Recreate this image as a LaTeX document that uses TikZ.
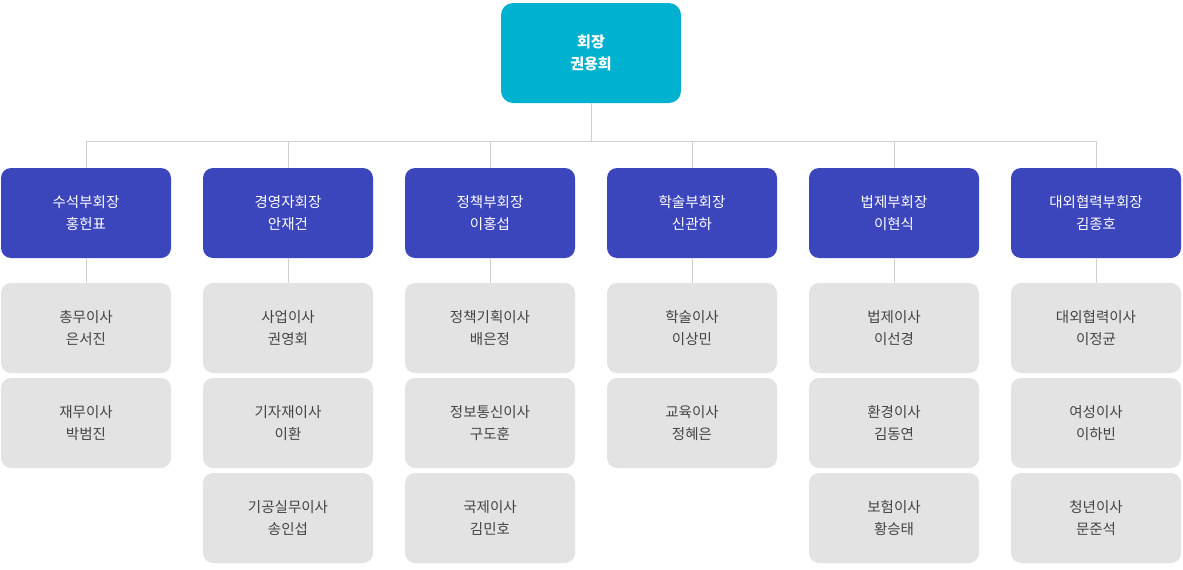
\documentclass[tikz,border=0pt]{standalone}
\usepackage{fontspec}
\setmainfont{Noto Sans CJK KR}
\definecolor{topc}{HTML}{00B2D0}
\definecolor{midc}{HTML}{3B45BC}
\definecolor{subc}{HTML}{E3E3E3}
\definecolor{subt}{HTML}{444444}
\definecolor{linec}{HTML}{D0D0D0}
\begin{document}
\begin{tikzpicture}[x=1pt,y=-1pt,
 topbox/.style={fill=topc,rounded corners=12pt,minimum width=180pt,minimum height=100pt,text=white,font=\fontsize{15}{22}\selectfont\bfseries,align=center,inner sep=0pt},
 midbox/.style={fill=midc,rounded corners=10pt,minimum width=170pt,minimum height=90pt,text=white,font=\fontsize{14.5}{22}\selectfont,align=center,inner sep=0pt},
 subbox/.style={fill=subc,rounded corners=10pt,minimum width=170pt,minimum height=90pt,text=subt,font=\fontsize{14.5}{22}\selectfont,align=center,inner sep=0pt},
 conn/.style={draw=linec,line width=0.8pt}]
\useasboundingbox (0,0) rectangle (1183,570);
\node[topbox] (top) at (591,53) {회장\\권용희};
\coordinate (bus) at (591,141);
\draw[conn] (top.south) -- (bus);
\foreach \i/\x/\t/\n in {1/86/수석부회장/홍헌표,2/288/경영자회장/안재건,3/490/정책부회장/이홍섭,4/692/학술부회장/신관하,5/894/법제부회장/이현식,6/1096/대외협력부회장/김종호}{
 \node[midbox] (m\i) at (\x,213) {\t\\\n};
 \coordinate (b\i) at (\x,141);
 \draw[conn] (b\i) -- (m\i.north);
}
\draw[conn] (b1) -- (b6);
\node[subbox] (s11) at (86,328) {총무이사\\은서진};
\node[subbox] (s12) at (86,423) {재무이사\\박범진};
\node[subbox] (s21) at (288,328) {사업이사\\권영회};
\node[subbox] (s22) at (288,423) {기자재이사\\이환};
\node[subbox] (s23) at (288,518) {기공실무이사\\송인섭};
\node[subbox] (s31) at (490,328) {정책기획이사\\배은정};
\node[subbox] (s32) at (490,423) {정보통신이사\\구도훈};
\node[subbox] (s33) at (490,518) {국제이사\\김민호};
\node[subbox] (s41) at (692,328) {학술이사\\이상민};
\node[subbox] (s42) at (692,423) {교육이사\\정혜은};
\node[subbox] (s51) at (894,328) {법제이사\\이선경};
\node[subbox] (s52) at (894,423) {환경이사\\김동연};
\node[subbox] (s53) at (894,518) {보험이사\\황승태};
\node[subbox] (s61) at (1096,328) {대외협력이사\\이정균};
\node[subbox] (s62) at (1096,423) {여성이사\\이하빈};
\node[subbox] (s63) at (1096,518) {청년이사\\문준석};
\foreach \i in {1,...,6}{\draw[conn] (m\i.south) -- (s\i1.north);}
\end{tikzpicture}
\end{document}
